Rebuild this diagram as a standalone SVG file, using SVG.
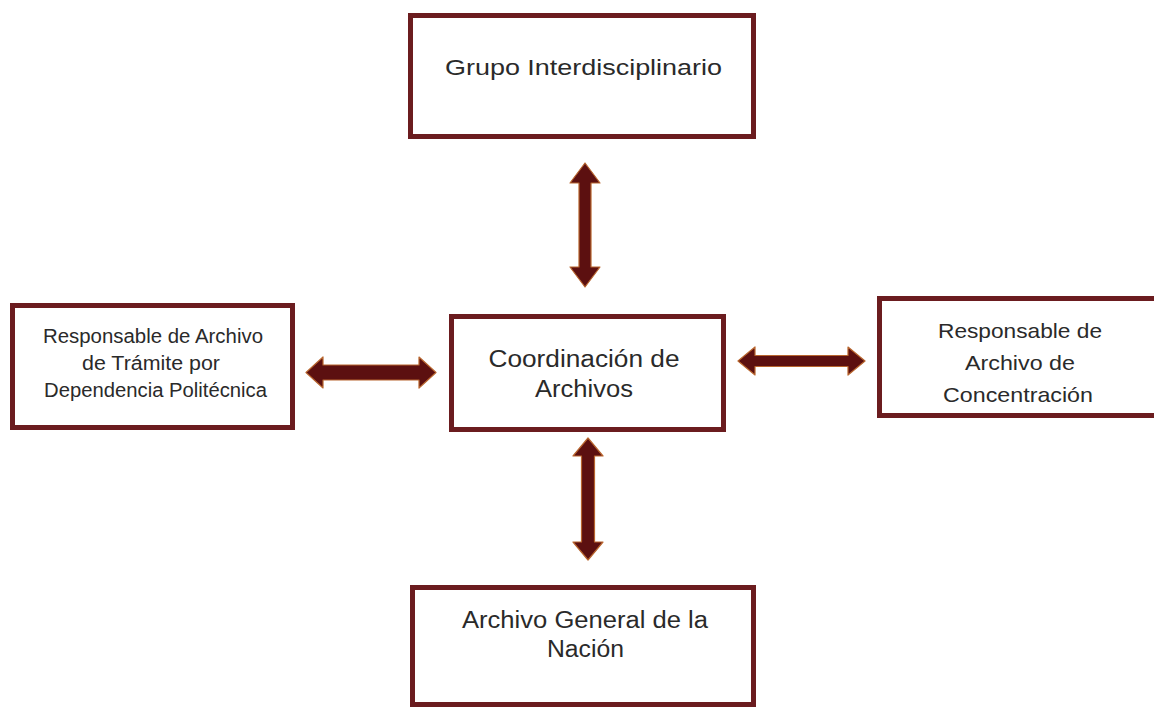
<svg xmlns="http://www.w3.org/2000/svg" width="1154" height="708" viewBox="0 0 1154 708">
<style>
.box{fill:#ffffff;stroke:#6b1c1f;stroke-width:5}
.t{font-family:"Liberation Sans",Arial,sans-serif;fill:#2a2a2a;text-anchor:middle}
.arr{fill:#5c1010;stroke:#b8652e;stroke-width:1.2;stroke-linejoin:round}
</style>
<rect width="1154" height="708" fill="#ffffff"/>
<g id="node-grupo">
<rect class="box" x="410.5" y="15.5" width="343" height="121"/>
<text class="t" x="583.5" y="75" font-size="22" textLength="277" lengthAdjust="spacingAndGlyphs">Grupo Interdisciplinario</text>
</g>
<g id="node-tramite">
<rect class="box" x="12.5" y="305.5" width="280" height="122"/>
<text class="t" x="153" y="343" font-size="20" textLength="220" lengthAdjust="spacingAndGlyphs">Responsable de Archivo</text>
<text class="t" x="151" y="370" font-size="20" textLength="138" lengthAdjust="spacingAndGlyphs">de Trámite por</text>
<text class="t" x="155.5" y="397" font-size="20" textLength="223" lengthAdjust="spacingAndGlyphs">Dependencia  Politécnica</text>
</g>
<g id="node-coordinacion">
<rect class="box" x="451.5" y="316.5" width="272" height="113"/>
<text class="t" x="584" y="367" font-size="23" textLength="191" lengthAdjust="spacingAndGlyphs">Coordinación de</text>
<text class="t" x="584" y="397" font-size="23" textLength="98" lengthAdjust="spacingAndGlyphs">Archivos</text>
</g>
<g id="node-concentracion">
<rect class="box" x="879.5" y="298.5" width="280" height="117"/>
<text class="t" x="1020" y="338" font-size="21" textLength="164" lengthAdjust="spacingAndGlyphs">Responsable de</text>
<text class="t" x="1020" y="370" font-size="21" textLength="110" lengthAdjust="spacingAndGlyphs">Archivo de</text>
<text class="t" x="1018" y="402" font-size="21" textLength="150" lengthAdjust="spacingAndGlyphs">Concentración</text>
</g>
<g id="node-agn">
<rect class="box" x="412.5" y="587.5" width="341" height="117"/>
<text class="t" x="585" y="628" font-size="23" textLength="246" lengthAdjust="spacingAndGlyphs">Archivo General de la</text>
<text class="t" x="585.5" y="657" font-size="23" textLength="77" lengthAdjust="spacingAndGlyphs">Nación</text>
</g>
<g id="connectors">
<polygon class="arr" points="585,163 600,183 591,183 591,267 600,267 585,287 570,267 579,267 579,183 570,183"/>
<polygon class="arr" points="588,438 603,456 594.5,456 594.5,542 603,542 588,560 573,542 581.5,542 581.5,456 573,456"/>
<polygon class="arr" points="306,372.5 323,357 323,365 419,365 419,357 436,372.5 419,388 419,380 323,380 323,388"/>
<polygon class="arr" points="738,361 755,347 755,355.5 848,355.5 848,347 865,361 848,375 848,366.5 755,366.5 755,375"/>
</g>
</svg>
